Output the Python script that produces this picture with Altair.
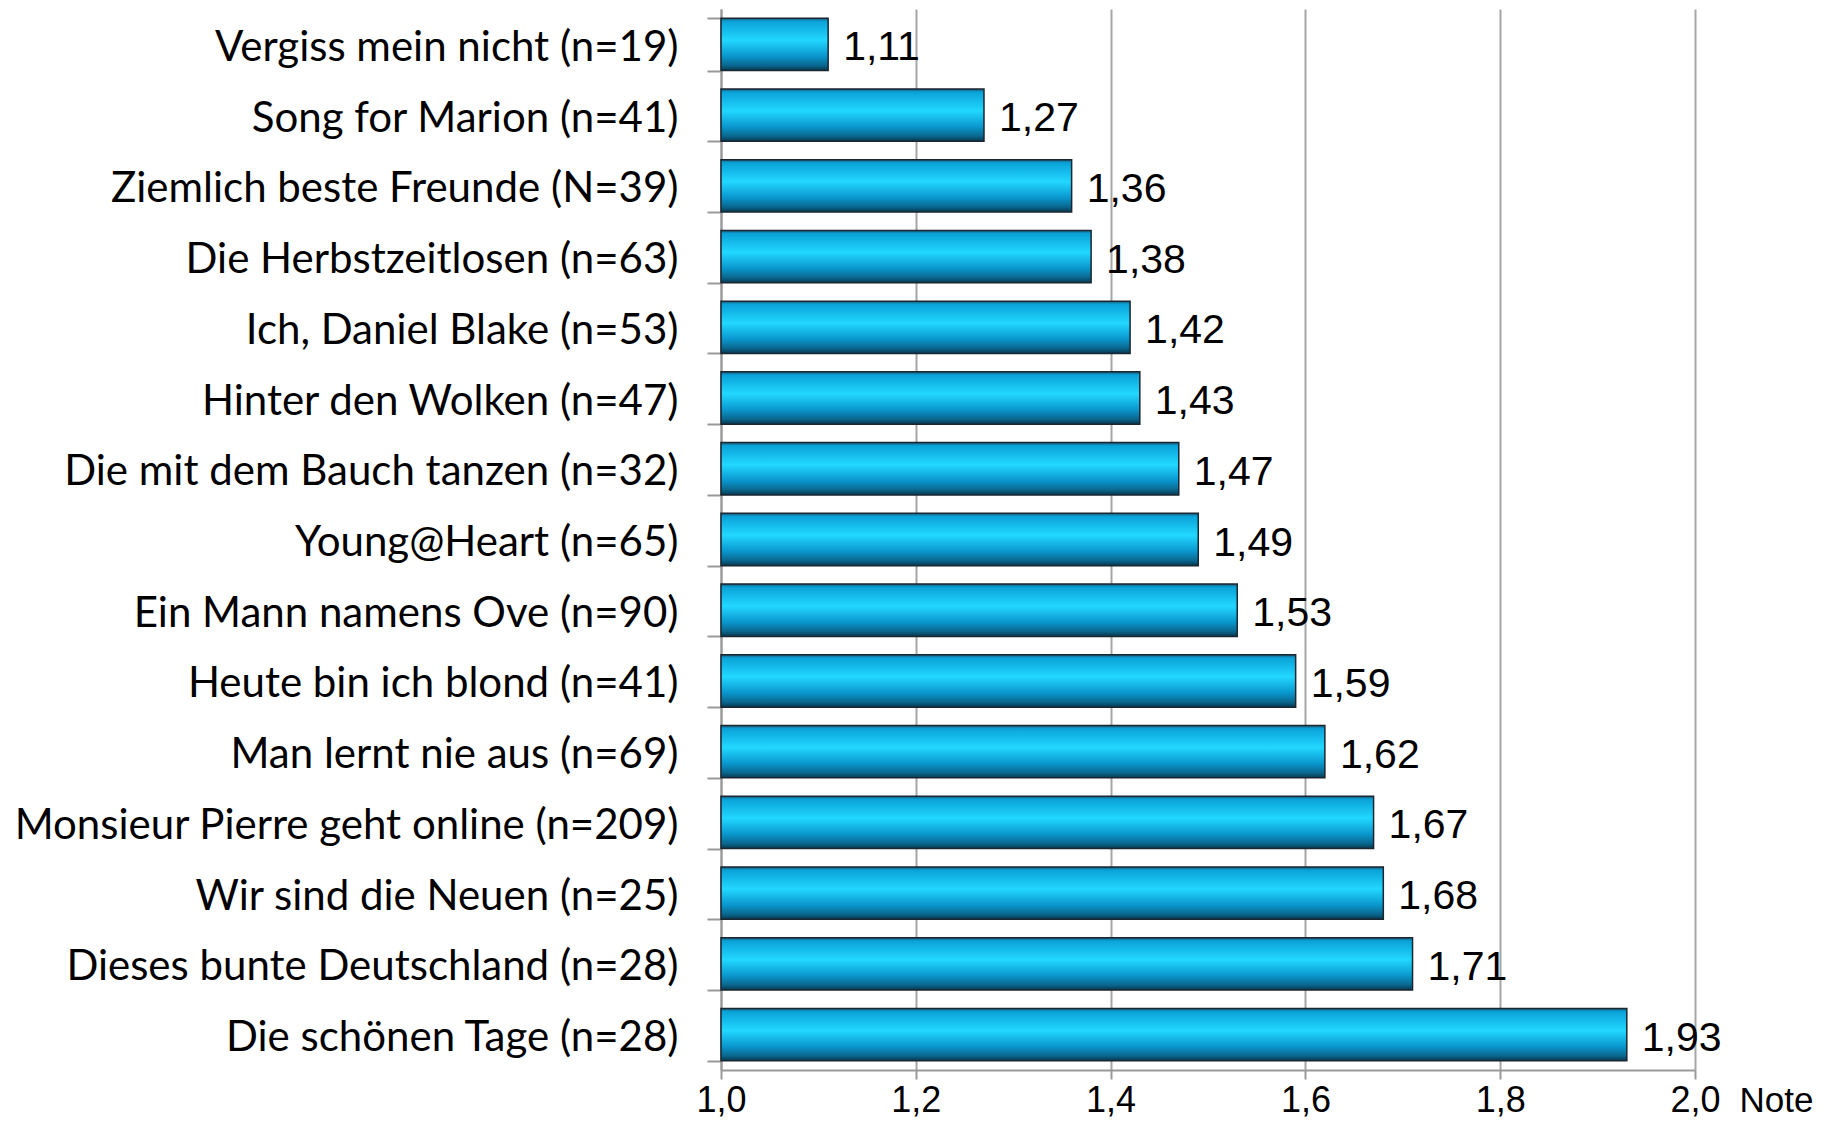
import altair as alt
import pandas as pd

films = [
    "Vergiss mein nicht (n=19)",
    "Song for Marion (n=41)",
    "Ziemlich beste Freunde (N=39)",
    "Die Herbstzeitlosen (n=63)",
    "Ich, Daniel Blake (n=53)",
    "Hinter den Wolken (n=47)",
    "Die mit dem Bauch tanzen (n=32)",
    "Young@Heart (n=65)",
    "Ein Mann namens Ove (n=90)",
    "Heute bin ich blond (n=41)",
    "Man lernt nie aus (n=69)",
    "Monsieur Pierre geht online (n=209)",
    "Wir sind die Neuen (n=25)",
    "Dieses bunte Deutschland (n=28)",
    "Die schönen Tage (n=28)",
]
notes = [1.11, 1.27, 1.36, 1.38, 1.42, 1.43, 1.47, 1.49, 1.53, 1.59, 1.62, 1.67, 1.68, 1.71, 1.93]
labels = ["1,11", "1,27", "1,36", "1,38", "1,42", "1,43", "1,47", "1,49", "1,53", "1,59",
          "1,62", "1,67", "1,68", "1,71", "1,93"]
x_ticks = [1.0, 1.2, 1.4, 1.6, 1.8, 2.0]

df = pd.DataFrame({"film": films, "note": notes, "label": labels, "base": [1.0] * len(films)})

grad = alt.Gradient(
    gradient="linear",
    x1=0, y1=0, x2=0, y2=1,
    stops=[
        alt.GradientStop(offset=0.0, color="#1b5a78"),
        alt.GradientStop(offset=0.06, color="#0aa2d8"),
        alt.GradientStop(offset=0.42, color="#22d8ff"),
        alt.GradientStop(offset=0.72, color="#0a98ce"),
        alt.GradientStop(offset=0.9, color="#0a6890"),
        alt.GradientStop(offset=1.0, color="#06384e"),
    ],
)

y_enc = alt.Y(
    "film:N",
    sort=films,
    title=None,
    scale=alt.Scale(paddingInner=0.26, paddingOuter=0.13),
    axis=alt.Axis(
        labelFont="Lato",
        labelFontSize=42,
        labelColor="#000000",
        labelPadding=29,
        labelOffset=3,
        labelLimit=800,
        tickBand="extent",
        tickSize=14,
        tickColor="#999999",
        tickWidth=2,
        domainColor="#999999",
        domainWidth=2,
        grid=False,
    ),
)

x_scale = alt.Scale(domain=[1.0, 2.0], nice=False, zero=False)

bars = alt.Chart(df).mark_bar(fill=grad, stroke="#1a2630", strokeWidth=1.5).encode(
    x=alt.X(
        "note:Q",
        scale=x_scale,
        title="Note",
        axis=alt.Axis(
            values=x_ticks,
            labelExpr="replace(format(datum.value, '.1f'), '.', ',')",
            labelFont="Liberation Sans",
            labelFontSize=36,
            labelColor="#000000",
            labelFlush=False,
            labelPadding=4,
            tickSize=9,
            tickColor="#999999",
            tickWidth=2,
            domainColor="#999999",
            domainWidth=2,
            grid=True,
            gridColor="#a6a6a6",
            gridWidth=2,
            titleFont="Liberation Sans",
            titleFontSize=35,
            titleFontWeight="normal",
            titleColor="#000000",
            titleX=1055,
            titleY=41,
            titleAlign="center",
            titleBaseline="alphabetic",
        ),
    ),
    x2="base:Q",
    y=y_enc,
)

text = alt.Chart(df).mark_text(
    align="left", baseline="middle", dx=15, dy=4, font="Liberation Sans", fontSize=41, color="#000000"
).encode(
    x=alt.X("note:Q", scale=x_scale),
    y=alt.Y("film:N", sort=films),
    text="label:N",
)

chart = (
    alt.layer(bars, text)
    .properties(
        width=974,
        height=1061,
        autosize=alt.AutoSizeParams(type="none"),
        padding={"left": 713, "top": 1, "right": 120, "bottom": 56},
    )
    .configure_view(strokeWidth=0)
)

chart.save("out.html", embed_options={"renderer": "svg", "actions": False})
